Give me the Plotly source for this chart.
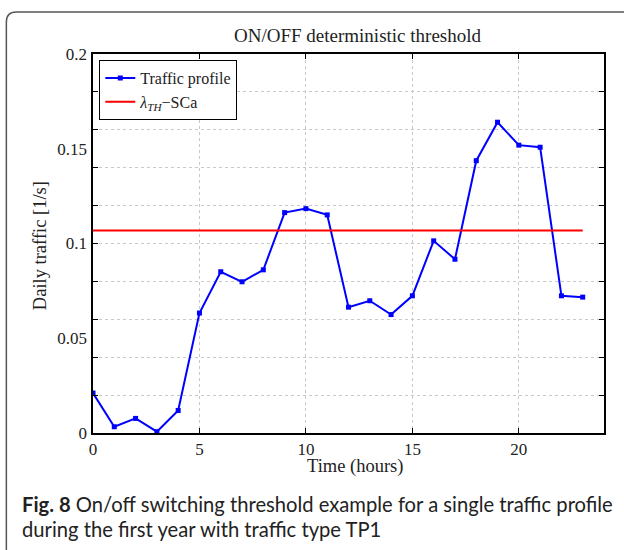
import plotly.graph_objects as go

hours = list(range(24))
traffic = [0.0211, 0.0033, 0.0077, 0.0007, 0.0119, 0.0633, 0.0851, 0.0798,
           0.0861, 0.1163, 0.1184, 0.1151, 0.0664, 0.0698, 0.0625, 0.0724,
           0.1014, 0.0917, 0.1437, 0.1640, 0.1519, 0.1508, 0.0724, 0.0717]
threshold_value = 0.1068
threshold_x = [0, 23]
x_ticks = [0, 5, 10, 15, 20]
y_labels = [0, 0.05, 0.1, 0.15, 0.2]
y_label_text = ["0", "0.05", "0.1", "0.15", "0.2"]
y_grid = [0, 0.02, 0.04, 0.06, 0.08, 0.1, 0.12, 0.14, 0.16, 0.18, 0.2]

W, H = 624, 550
L, R, T, B = 92.7, 604, 54, 433.3

def px(X):
    return (X - L) / (R - L)

def py(Y):
    return (B - Y) / (B - T)

SERIF = "Liberation Serif"
TXT = "#222"

fig = go.Figure()
fig.add_trace(go.Scatter(
    x=hours, y=traffic, mode="lines+markers", name="Traffic profile",
    line=dict(color="#0000ff", width=2),
    marker=dict(symbol="square", size=5, color="#0000ff"),
))
fig.add_trace(go.Scatter(
    x=threshold_x, y=[threshold_value] * len(threshold_x), mode="lines",
    name="<i>λ</i><sub><i>TH</i></sub>−SCa",
    line=dict(color="#ff0000", width=2),
))
# invisible trace to activate the label axis
fig.add_trace(go.Scatter(x=[0], y=[0], yaxis="y2", mode="markers",
                         marker=dict(opacity=0), showlegend=False, hoverinfo="skip"))

fig.update_layout(
    width=W, height=H,
    margin=dict(l=L, r=W - R, t=T, b=H - B, pad=0),
    paper_bgcolor="white", plot_bgcolor="white",
    font=dict(family=SERIF, size=16, color=TXT),
    showlegend=True,
    legend=dict(x=px(99), y=py(60), xanchor="left", yanchor="top",
                bordercolor="black", borderwidth=1, bgcolor="white",
                font=dict(family=SERIF, size=16, color=TXT),
                itemwidth=30, tracegroupgap=0),
    xaxis=dict(range=[0, 24], tickvals=x_ticks, ticks="inside", ticklen=5,
               tickcolor="black", showgrid=True, gridcolor="#c8c8c8",
               griddash="dot", gridwidth=1, zeroline=False,
               showline=True, linecolor="black", linewidth=1.5, mirror="ticks",
               ticklabelstandoff=0,
               tickfont=dict(family=SERIF, size=17, color=TXT)),
    yaxis=dict(range=[0, 0.2], tickvals=y_grid, showticklabels=False,
               ticks="inside", ticklen=5, tickcolor="black",
               showgrid=True, gridcolor="#c8c8c8", griddash="dot", gridwidth=1,
               zeroline=False, showline=True, linecolor="black", linewidth=1.5,
               mirror="ticks"),
    yaxis2=dict(range=[0, 0.2], overlaying="y", side="left", tickvals=y_labels,
                ticktext=y_label_text, ticks="", ticklabelstandoff=5,
                showgrid=False, zeroline=False, showline=False,
                tickfont=dict(family=SERIF, size=17, color=TXT)),
)

border_path = (f"M {px(6)},{py(600)} L {px(6)},{py(22)} "
               f"Q {px(6)},{py(12)} {px(16)},{py(12)} L {px(640)},{py(12)}")
fig.add_shape(type="path", xref="paper", yref="paper", path=border_path,
              line=dict(color="#555", width=1.5), layer="above")

fig.add_annotation(x=px(357), y=py(35), xref="paper", yref="paper",
                   text="ON/OFF deterministic threshold", showarrow=False,
                   font=dict(family=SERIF, size=19, color=TXT),
                   xanchor="center", yanchor="middle")
fig.add_annotation(x=px(355), y=py(467), xref="paper", yref="paper",
                   text="Time (hours)", showarrow=False,
                   font=dict(family=SERIF, size=18.5, color=TXT),
                   xanchor="center", yanchor="middle")
fig.add_annotation(x=px(40), y=py(246), xref="paper", yref="paper",
                   text="Daily traffic [1/s]", showarrow=False, textangle=-90,
                   font=dict(family=SERIF, size=18.5, color=TXT),
                   xanchor="center", yanchor="middle")
fig.add_annotation(x=px(20), y=py(504), xref="paper", yref="paper",
                   text="<b>Fig. 8</b> On/off switching threshold example for a single traffic profile",
                   showarrow=False, font=dict(family="Lato", size=20.2, color=TXT),
                   xanchor="left", yanchor="middle")
fig.add_annotation(x=px(20), y=py(529), xref="paper", yref="paper",
                   text="during the first year with traffic type TP1",
                   showarrow=False, font=dict(family="Lato", size=20.2, color=TXT),
                   xanchor="left", yanchor="middle")

fig.write_html("out.html", config={"displayModeBar": False},
               post_script="document.body.style.margin='0px';")
